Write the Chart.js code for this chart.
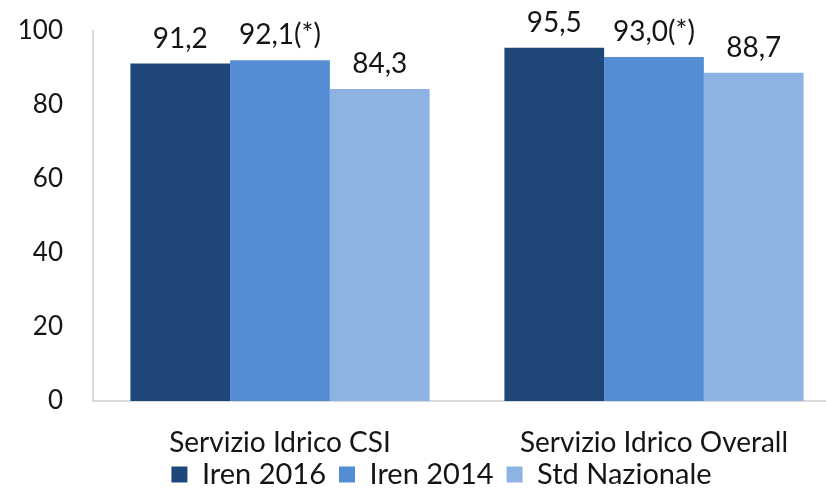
<!DOCTYPE html>
<html><head><meta charset="utf-8">
<script src="https://cdn.jsdelivr.net/npm/chart.js@4/dist/chart.umd.min.js"></script>
<style>
html,body{margin:0;padding:0;background:#fff;overflow:hidden;width:826px;height:488px;}
#wrap{position:relative;width:882px;height:488px;}
</style></head>
<body><div id="wrap"><canvas id="c" width="882" height="488"></canvas></div>
<script>
const categories = ["Servizio Idrico CSI", "Servizio Idrico Overall"];
const seriesNames = ["Iren 2016", "Iren 2014", "Std Nazionale"];
const iren2016 = [91.2, 95.5];
const iren2014 = [92.1, 93.0];
const stdNazionale = [84.3, 88.7];
const labels2016 = ["91,2", "95,5"];
const labels2014 = ["92,1(*)", "93,0(*)"];
const labelsStd = ["84,3", "88,7"];
const yTicks = [0, 20, 40, 60, 80, 100];

const FONT = "Lato, 'Open Sans', sans-serif";
const TXT = "#151515";

const valueLabels = {
  id: 'valueLabels',
  afterDatasetsDraw(chart) {
    const ctx = chart.ctx;
    ctx.save();
    ctx.font = "28px " + FONT;
    ctx.fillStyle = TXT;
    ctx.textAlign = 'center';
    ctx.textBaseline = 'alphabetic';
    chart.data.datasets.forEach((ds, i) => {
      const meta = chart.getDatasetMeta(i);
      meta.data.forEach((bar, j) => {
        ctx.fillText(ds.valueLabels[j], bar.x, bar.y - 16);
      });
    });
    ctx.restore();
  }
};

new Chart(document.getElementById('c'), {
  type: 'bar',
  data: {
    labels: categories,
    datasets: [
      {label: seriesNames[0], data: iren2016, valueLabels: labels2016, backgroundColor: '#1f4679'},
      {label: seriesNames[1], data: iren2014, valueLabels: labels2014, backgroundColor: '#558dd4'},
      {label: seriesNames[2], data: stdNazionale, valueLabels: labelsStd, backgroundColor: '#8db3e2'}
    ]
  },
  options: {
    responsive: false,
    animation: false,
    layout: {padding: {left: 42, right: 41, top: 31, bottom: -11}},
    datasets: {bar: {categoryPercentage: 0.8, barPercentage: 1.0}},
    plugins: {
      legend: {
        position: 'bottom',
        labels: {boxWidth: 16, boxHeight: 16, padding: 13, color: TXT, font: {family: FONT, size: 29}}
      },
      tooltip: {enabled: false}
    },
    scales: {
      x: {
        afterFit: (s) => { s.height = 46; s.paddingLeft = 0; s.paddingRight = 0; s._computeLabelArea = () => null; },
        grid: {display: false, drawTicks: false},
        border: {display: true, color: '#d9d9d9', width: 2},
        ticks: {color: TXT, font: {family: FONT, size: 28}, padding: 25, maxRotation: 0, autoSkip: false}
      },
      y: {
        min: 0, max: 100,
        afterFit: (s) => { s.width = 51; s.paddingTop = 0; s.paddingBottom = 0; s._computeLabelArea = () => null; },
        afterBuildTicks: (s) => { s.ticks = yTicks.map(v => ({value: v})); },
        grid: {display: false, drawTicks: false},
        border: {display: true, color: '#d9d9d9', width: 2},
        ticks: {color: TXT, font: {family: FONT, size: 26}, padding: 30}
      }
    }
  },
  plugins: [valueLabels]
});
</script></body></html>
